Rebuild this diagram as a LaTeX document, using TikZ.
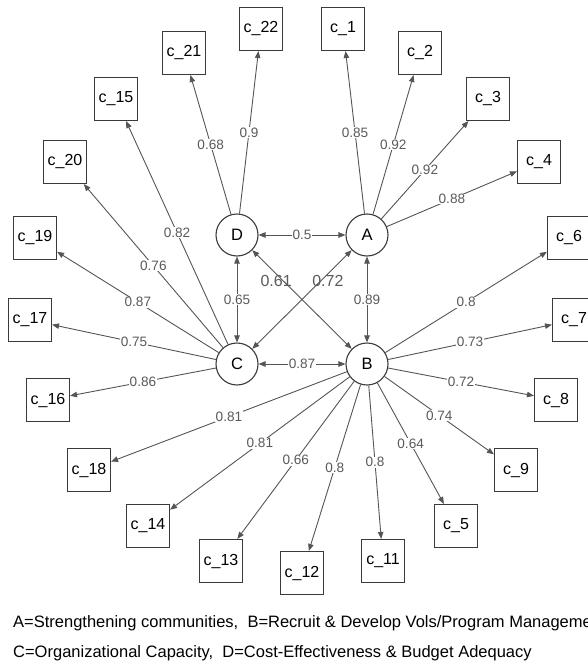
\documentclass[tikz,border=0pt]{standalone}
\usepackage{fontspec}
\setmainfont{Liberation Sans}
\usetikzlibrary{arrows.meta}
\definecolor{edgegray}{HTML}{555555}
\definecolor{labgray}{HTML}{5A5A5A}
\definecolor{boxgray}{HTML}{3A3A3A}
\begin{document}
\begin{tikzpicture}[x=1pt,y=-1pt,
 lat/.style={circle,draw=boxgray,line width=1.1pt,minimum size=42pt,inner sep=0pt,font=\fontsize{16.5}{18}\selectfont},
 ind/.style={rectangle,draw=boxgray,line width=1.1pt,minimum size=43pt,inner sep=0pt,font=\fontsize{16}{18}\selectfont},
 ld/.style={draw=edgegray,line width=0.9pt,-{Triangle[length=7pt,width=5.5pt]}},
 cv/.style={draw=edgegray,line width=0.9pt,{Triangle[length=7pt,width=5.5pt]}-{Triangle[length=7pt,width=5.5pt]}},
 el/.style={midway,fill=white,inner sep=0.6pt,text=labgray,font=\fontsize{13.6}{15}\selectfont},
 bl/.style={pos=0.24,inner sep=0pt,text=labgray,font=\fontsize{16}{18}\selectfont,yshift=-7pt},
 leg/.style={anchor=west,inner sep=0pt,font=\fontsize{16.5}{18}\selectfont}
]
\clip (0,0) rectangle (588,666);
% latent nodes
\node[lat] (D) at (237,235) {D};
\node[lat] (A) at (367,235) {A};
\node[lat] (C) at (237,364) {C};
\node[lat] (B) at (367,364) {B};
% indicator boxes
\node[ind] (c1) at (343,29) {c\_1};
\node[ind] (c2) at (420,53) {c\_2};
\node[ind] (c3) at (488,99) {c\_3};
\node[ind] (c4) at (539,162) {c\_4};
\node[ind] (c6) at (569,238) {c\_6};
\node[ind] (c7) at (574,320) {c\_7};
\node[ind] (c8) at (556,400) {c\_8};
\node[ind] (c9) at (516,470) {c\_9};
\node[ind] (c5) at (456,526) {c\_5};
\node[ind] (c11) at (383,561) {c\_11};
\node[ind] (c12) at (302,573) {c\_12};
\node[ind] (c13) at (221,561) {c\_13};
\node[ind] (c14) at (148,526) {c\_14};
\node[ind] (c18) at (89,470) {c\_18};
\node[ind] (c16) at (48,400) {c\_16};
\node[ind] (c17) at (30,320) {c\_17};
\node[ind] (c19) at (35,238) {c\_19};
\node[ind] (c20) at (65,162) {c\_20};
\node[ind] (c15) at (116,99) {c\_15};
\node[ind] (c21) at (184,53) {c\_21};
\node[ind] (c22) at (261,29) {c\_22};
% loadings A
\draw[ld] (A) -- (c1) node[el] {0.85};
\draw[ld] (A) -- (c2) node[el] {0.92};
\draw[ld] (A) -- (c3) node[el] {0.92};
\draw[ld] (A) -- (c4) node[el] {0.88};
% loadings D
\draw[ld] (D) -- (c21) node[el] {0.68};
\draw[ld] (D) -- (c22) node[el] {0.9};
% loadings C
\draw[ld] (C) -- (c15) node[el] {0.82};
\draw[ld] (C) -- (c20) node[el] {0.76};
\draw[ld] (C) -- (c19) node[el] {0.87};
\draw[ld] (C) -- (c17) node[el] {0.75};
\draw[ld] (C) -- (c16) node[el] {0.86};
% loadings B
\draw[ld] (B) -- (c6) node[el] {0.8};
\draw[ld] (B) -- (c7) node[el] {0.73};
\draw[ld] (B) -- (c8) node[el] {0.72};
\draw[ld] (B) -- (c9) node[el] {0.74};
\draw[ld] (B) -- (c5) node[el] {0.64};
\draw[ld] (B) -- (c11) node[el] {0.8};
\draw[ld] (B) -- (c12) node[el] {0.8};
\draw[ld] (B) -- (c13) node[el] {0.66};
\draw[ld] (B) -- (c14) node[el] {0.81};
\draw[ld] (B) -- (c18) node[el] {0.81};
% covariances
\draw[cv] (D) -- (A) node[el] {0.5};
\draw[cv] (D) -- (C) node[el] {0.65};
\draw[cv] (A) -- (B) node[el] {0.89};
\draw[cv] (C) -- (B) node[el] {0.87};
\draw[cv] (D) -- (B) node[bl] {0.61};
\draw[cv] (A) -- (C) node[bl] {0.72};
% legend
\node[leg] (leg1) at (13,623) {A=Strengthening communities, \ B=Recruit \& Develop Vols/Program Management};
\node[leg] (leg2) at (13,653) {C=Organizational Capacity, \ D=Cost-Effectiveness \& Budget Adequacy};
\end{tikzpicture}
\end{document}
